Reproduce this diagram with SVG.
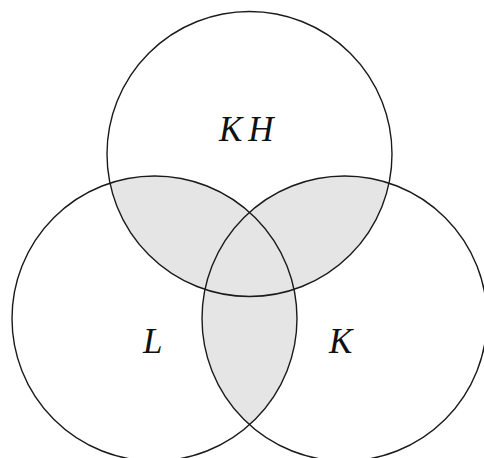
<svg xmlns="http://www.w3.org/2000/svg" width="484" height="458" viewBox="0 0 484 458">
<style>
.c{fill:none;stroke:#1a1a1a;stroke-width:1.4}
.s{fill:#e5e5e5;stroke:none}
.t{font-family:"Liberation Serif","DejaVu Serif",serif;font-style:italic;font-size:35px;fill:#111}
</style>
<defs>
<clipPath id="cT"><circle cx="249.5" cy="154" r="142.5"/></clipPath>
<clipPath id="cL"><circle cx="154.5" cy="318.5" r="142.5"/></clipPath>
</defs>
<rect width="484" height="458" fill="#fff"/>
<g id="shading">
<circle class="s" cx="154.5" cy="318.5" r="142.5" clip-path="url(#cT)"/>
<circle class="s" cx="344.5" cy="318.5" r="142.5" clip-path="url(#cT)"/>
<circle class="s" cx="344.5" cy="318.5" r="142.5" clip-path="url(#cL)"/>
</g>
<g id="KH"><circle class="c" cx="249.5" cy="154" r="142.5"/><text class="t" x="219" y="141">K<tspan dx="6">H</tspan></text></g>
<g id="L"><circle class="c" cx="154.5" cy="318.5" r="142.5"/><text class="t" x="143" y="353">L</text></g>
<g id="K"><circle class="c" cx="344.5" cy="318.5" r="142.5"/><text class="t" x="329" y="353">K</text></g>
<g id="connectors"/>
</svg>
